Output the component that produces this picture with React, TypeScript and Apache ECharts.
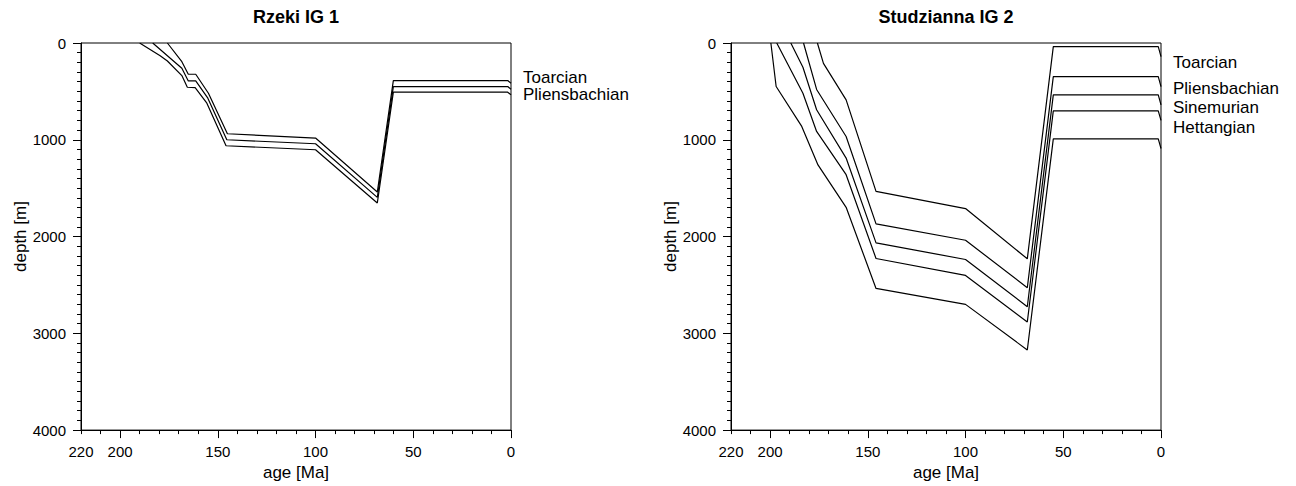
import React, { useEffect, useRef } from "react";
import * as echarts from "echarts";

// ---- Rzeki IG 1 (age [Ma], depth [m]) ----
const rzekiAgeA = [190, 179.5, 175.8, 168.4, 165.6, 161.6, 155.6, 145.8, 100, 68.4, 60.2, 1.7, 0];
const rzekiDepthA = [0, 131, 186, 337, 457, 461, 622, 1062, 1103, 1653, 508, 508, 535];
const rzekiAgeB = [183.3, 175.8, 168.4, 165.1, 161.3, 155.1, 145.4, 100, 68.4, 60.2, 1.7, 0];
const rzekiDepthB = [0, 131, 261, 392, 392, 570, 1000, 1041, 1595, 450, 450, 477];
const rzekiAgeC = [175.8, 168.4, 165.1, 161.3, 154.8, 145.1, 100, 68.4, 60.2, 1.7, 0];
const rzekiDepthC = [0, 193, 323, 323, 519, 938, 982, 1540, 388, 388, 415];
const rzekiLabels = ["Toarcian", "Pliensbachian"];

// ---- Studzianna IG 2 ----
const studAge1 = [175.8, 172.7, 161.1, 145.8, 100, 68.4, 55.1, 1.4, 0];
const studDepth1 = [0, 210, 588, 1533, 1711, 2230, 38, 38, 140];
const studAge2 = [182.9, 176.2, 161.1, 145.8, 100, 68.4, 55.1, 1.4, 0];
const studDepth2 = [0, 480, 966, 1869, 2038, 2529, 347, 347, 450];
const studAge3 = [189.4, 183.2, 176.2, 161.1, 145.8, 100, 68.4, 55.1, 1.4, 0];
const studDepth3 = [0, 250, 690, 1189, 2065, 2237, 2725, 536, 536, 640];
const studAge4 = [196.6, 183.2, 176.2, 161.1, 145.8, 100, 68.4, 55.1, 1.4, 0];
const studDepth4 = [0, 519, 914, 1361, 2227, 2402, 2883, 701, 701, 800];
const studAge5 = [199.6, 196.9, 183.8, 175.5, 161.1, 145.8, 100, 68.4, 55.1, 1.4, 0];
const studDepth5 = [0, 450, 862, 1260, 1698, 2536, 2701, 3172, 990, 990, 1090];
const studLabels = ["Toarcian", "Pliensbachian", "Sinemurian", "Hettangian"];

// ---- axes ----
const ageLabelValues = [0, 50, 100, 150, 200, 220];
const ageMajorTicks = [0, 50, 100, 150, 200];
const titles = ["Rzeki IG 1", "Studzianna IG 2"];

const FONT = "'Liberation Sans', Arial, Helvetica, sans-serif";

const zip = (a: number[], b: number[]) => a.map((v, i) => [v, b[i]]);

export default function App() {
  const ref = useRef<HTMLDivElement>(null);
  useEffect(() => {
    if (!ref.current) return;
    const chart = echarts.init(ref.current, undefined, { renderer: "svg" });
    const grids = [
      { left: 81, top: 43, width: 430, height: 388 },
      { left: 731, top: 43, width: 430, height: 388 },
    ];
    const xAxes: any[] = [];
    const yAxes: any[] = [];
    grids.forEach((_, gi) => {
      // minor ticks axis
      xAxes.push({
        type: "value",
        gridIndex: gi,
        position: "bottom",
        min: 0,
        max: 220,
        interval: 10,
        inverse: true,
        axisLine: { show: true, onZero: false, lineStyle: { color: "#000", width: 1 } },
        axisTick: { show: true, length: 4, lineStyle: { color: "#000" } },
        axisLabel: { show: false },
        splitLine: { show: false },
      });
      // major ticks + labels axis
      xAxes.push({
        type: "value",
        gridIndex: gi,
        position: "bottom",
        min: 0,
        max: 220,
        interval: 10,
        inverse: true,
        name: "age [Ma]",
        nameLocation: "middle",
        nameGap: 28,
        nameTextStyle: { color: "#000", fontSize: 17, fontFamily: FONT },
        axisLine: { show: false, onZero: false },
        axisTick: { show: true, length: 8, customValues: ageMajorTicks, lineStyle: { color: "#000" } },
        axisLabel: {
          show: true,
          customValues: ageLabelValues,
          margin: 14,
          color: "#000",
          fontSize: 15,
          fontFamily: FONT,
        },
        splitLine: { show: false },
      });
      yAxes.push({
        type: "value",
        gridIndex: gi,
        position: "left",
        min: 0,
        max: 4000,
        interval: 1000,
        inverse: true,
        name: "depth [m]",
        nameLocation: "middle",
        nameGap: 48,
        nameTextStyle: { color: "#000", fontSize: 17, fontFamily: FONT },
        axisLine: { show: true, onZero: false, lineStyle: { color: "#000", width: 1 } },
        axisTick: { show: true, length: 8, lineStyle: { color: "#000" } },
        minorTick: { show: true, splitNumber: 10, length: 4, lineStyle: { color: "#000" } },
        axisLabel: {
          margin: 15,
          color: "#000",
          fontSize: 15,
          fontFamily: FONT,
          formatter: (v: number) => String(v),
        },
        splitLine: { show: false },
        minorSplitLine: { show: false },
      });
    });

    const lineSeries = (ages: number[], depths: number[], gi: number) => ({
      type: "line",
      xAxisIndex: gi * 2,
      yAxisIndex: gi,
      data: zip(ages, depths),
      symbol: "none",
      silent: true,
      lineStyle: { color: "#000", width: 1.2 },
    });

    const series = [
      lineSeries(rzekiAgeA, rzekiDepthA, 0),
      lineSeries(rzekiAgeB, rzekiDepthB, 0),
      lineSeries(rzekiAgeC, rzekiDepthC, 0),
      lineSeries(studAge1, studDepth1, 1),
      lineSeries(studAge2, studDepth2, 1),
      lineSeries(studAge3, studDepth3, 1),
      lineSeries(studAge4, studDepth4, 1),
      lineSeries(studAge5, studDepth5, 1),
    ];

    const textEl = (text: string, x: number, y: number, size: number, bold = false, align = "left") => ({
      type: "text",
      x,
      y,
      silent: true,
      style: {
        text,
        fill: "#000",
        font: `${bold ? "bold " : ""}${size}px ${FONT}`,
        textAlign: align,
        textVerticalAlign: "middle",
      },
    });

    const rzekiLabelY = [77, 94];
    const studLabelY = [62, 88, 107, 127];
    const graphics: any[] = [
      textEl(titles[0], 296, 17, 18, true, "center"),
      textEl(titles[1], 946, 17, 18, true, "center"),
      ...rzekiLabels.map((t, i) => textEl(t, 523, rzekiLabelY[i], 17)),
      ...studLabels.map((t, i) => textEl(t, 1173, studLabelY[i], 17)),
    ];

    chart.setOption({
      animation: false,
      backgroundColor: "#fff",
      grid: grids.map((g) => ({
        ...g,
        show: true,
        borderColor: "#000",
        borderWidth: 1,
        backgroundColor: "transparent",
      })),
      xAxis: xAxes,
      yAxis: yAxes,
      series,
      graphic: graphics,
    });
    return () => chart.dispose();
  }, []);
  return (
    <div
      ref={ref}
      style={{ position: "fixed", left: 0, top: 0, width: 1296, height: 486 }}
    />
  );
}
